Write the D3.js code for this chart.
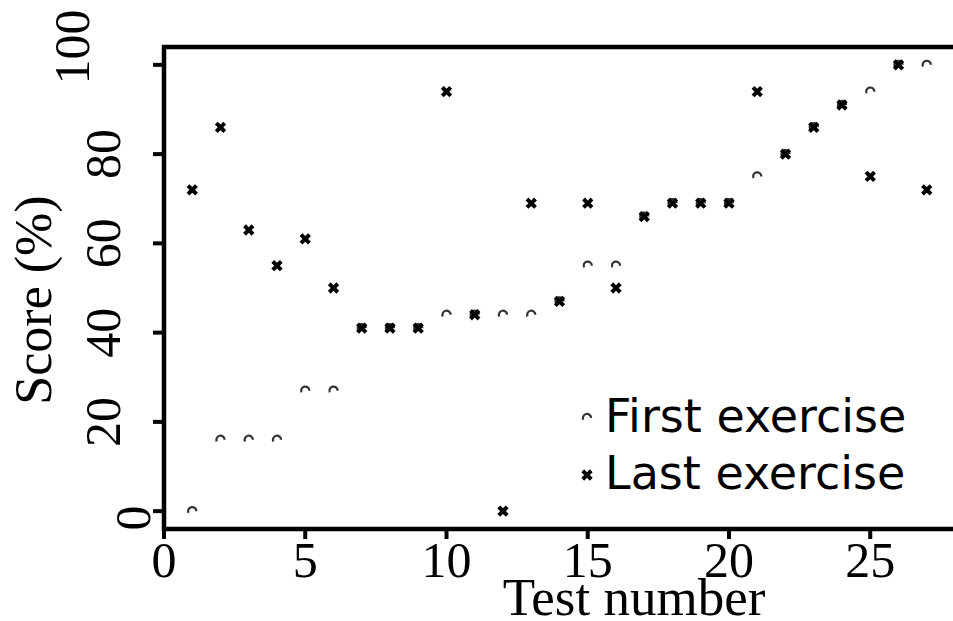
<!DOCTYPE html>
<html><head><meta charset="utf-8">
<script src="https://cdn.jsdelivr.net/npm/d3@7"></script>
<style>html,body{margin:0;padding:0;background:#fff;}svg{display:block;}</style>
</head><body>
<script>
const tests = [1,2,3,4,5,6,7,8,9,10,11,12,13,14,15,16,17,18,19,20,21,22,23,24,25,26,27];
const firstExercise = [0,16,16,16,27,27,41,41,41,44,44,44,44,47,55,55,66,69,69,69,75,80,86,91,94,100,100];
const lastExercise  = [72,86,63,55,61,50,41,41,41,94,44,0,69,47,69,50,66,69,69,69,94,80,86,91,75,100,72];
const xTicks = [0,5,10,15,20,25];
const yTicks = [0,20,40,60,80,100];
const seriesNames = ["First exercise","Last exercise"];

const W = 953, H = 621;
const svg = d3.select("body").append("svg").attr("width", W).attr("height", H);

const x = d3.scaleLinear().domain([0, 28]).range([164, 955]);
const y = d3.scaleLinear().domain([-4, 104]).range([529, 47]);

const serif = "'Liberation Serif','Times New Roman',serif";
const sans = "'DejaVu Sans',sans-serif";

// frame
svg.append("path")
  .attr("d", `M${x(28)+5},${y(104)} H${x(0)} V${y(-4)} H${x(28)+5}`)
  .attr("fill","none").attr("stroke","#000").attr("stroke-width",4.5);

// y ticks
svg.selectAll(".yt").data(yTicks).join("line")
  .attr("x1", x(0)-11).attr("x2", x(0))
  .attr("y1", d=>y(d)).attr("y2", d=>y(d))
  .attr("stroke","#000").attr("stroke-width",4);
// x ticks
svg.selectAll(".xt").data(xTicks).join("line")
  .attr("x1", d=>x(d)).attr("x2", d=>x(d))
  .attr("y1", y(-4)).attr("y2", y(-4)+10)
  .attr("stroke","#000").attr("stroke-width",4);

// x tick labels
svg.selectAll(".xl").data(xTicks).join("text")
  .attr("x", d=>x(d)).attr("y", 577)
  .attr("text-anchor","middle").attr("font-family",serif).attr("font-size",50)
  .text(d=>d);

// y tick labels (rotated)
svg.selectAll(".yl").data(yTicks).join("text")
  .attr("transform", d=>`translate(${d===100?89:(d===0?150:120)},${d===100?47:(d===0?518:y(d))}) rotate(-90)`)
  .attr("text-anchor","middle").attr("font-family",serif).attr("font-size",50)
  .text(d=>d);

// axis titles
svg.append("text").attr("x", 634).attr("y", 615).attr("text-anchor","middle")
  .attr("font-family",serif).attr("font-size",53).text("Test number");
svg.append("text").attr("transform","translate(51,300) rotate(-90)").attr("text-anchor","middle")
  .attr("font-family",serif).attr("font-size",52).text("Score (%)");

// markers
const arcPath = d3.arc().innerRadius(3).outerRadius(5.2).startAngle(-2.1*Math.PI/3.3).endAngle(Math.PI/2)();
const crossPath = d3.symbol().type(d3.symbolCross).size(80)();

const g = svg.append("g");
g.selectAll(".f").data(tests).join("path")
  .attr("d", arcPath).attr("fill","#333")
  .attr("transform",(d,i)=>`translate(${x(d)},${y(firstExercise[i])})`);
g.selectAll(".l").data(tests).join("path")
  .attr("d", crossPath).attr("fill","#000")
  .attr("transform",(d,i)=>`translate(${x(d)},${y(lastExercise[i])}) rotate(45)`);

// legend
const leg = svg.append("g");
leg.append("path").attr("d", arcPath).attr("fill","#333").attr("transform","translate(587,418)");
leg.append("path").attr("d", crossPath).attr("fill","#000").attr("transform","translate(587,475) rotate(45)");
leg.append("text").attr("x",605).attr("y",432).attr("font-family",sans).attr("font-size",46).text(seriesNames[0]);
leg.append("text").attr("x",605).attr("y",489).attr("font-family",sans).attr("font-size",46).text(seriesNames[1]);
</script>
</body></html>
